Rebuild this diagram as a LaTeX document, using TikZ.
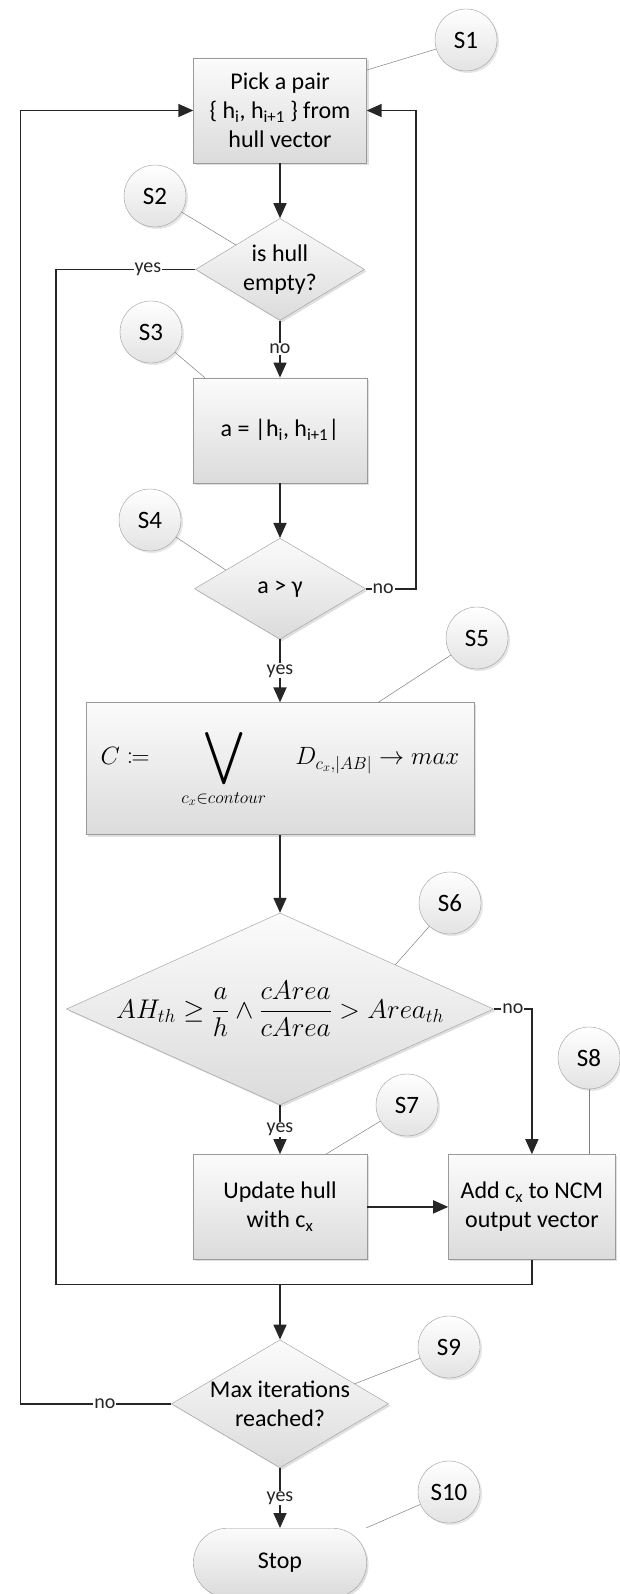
\RequirePackage{fix-cm}
\documentclass[tikz,border=0pt]{standalone}
\usepackage{amsmath}
\usepackage{mathtools}
\usepackage{graphicx}
\usepackage{fontspec}
\setmainfont{Carlito}
\usetikzlibrary{arrows.meta, positioning, calc, shapes.geometric, shadows}
\definecolor{myLine}{HTML}{262626}
\definecolor{myEdge}{HTML}{9A9A9A}

\begin{document}
\begin{tikzpicture}[
node distance=55pt and 81pt,
box/.style={rectangle, draw=myEdge, top color=gray!3, bottom color=gray!28, drop shadow={shadow xshift=2pt, shadow yshift=-2pt, opacity=0.25}, align=center, inner sep=0pt, font=\fontsize{24}{29}\selectfont},
decision/.style={diamond, draw=myEdge, top color=gray!3, bottom color=gray!28, drop shadow={shadow xshift=2pt, shadow yshift=-2pt, opacity=0.25}, align=center, inner sep=-10pt, font=\fontsize{24}{29}\selectfont},
term/.style={box, rounded corners=34pt},
tag/.style={circle, draw=myEdge, minimum size=62pt, inner sep=0pt, top color=white, bottom color=gray!22, drop shadow={shadow xshift=2pt, shadow yshift=-2pt, opacity=0.2}, font=\fontsize{25}{30}\selectfont},
tagline/.style={gray, line width=0.5pt},
flowline/.style={line width=1.6pt, myLine},
arrow/.style={flowline, -{Triangle[length=15pt, width=13pt]}},
lbl/.style={fill=white, inner sep=1pt, font=\fontsize{20}{22}\selectfont}
]
\useasboundingbox (0,0) rectangle (620pt,-1594pt);

\node[box, minimum width=173pt, minimum height=105pt] (pick) at (280pt,-110.5pt) {Pick a pair\\\{ h\textsubscript{i}, h\textsubscript{i+1} \} from\\hull vector};
\node[decision, aspect=1.66, minimum width=169pt, minimum height=102pt, below=55pt of pick] (empty) {is hull\\empty?};
\node[box, minimum width=174pt, minimum height=105pt, below=57pt of empty] (dist) {a = |h\textsubscript{i}, h\textsubscript{i+1}|};
\node[decision, aspect=1.69, minimum width=171pt, minimum height=101pt, below=55pt of dist] (long) {a > γ};
\node[box, minimum width=388pt, minimum height=132pt, below=63pt of long, font=\fontsize{25}{30}\selectfont] (cand) {$\displaystyle C \coloneqq \quad \mathop{\vcenter{\hbox{\scalebox{1.5}{$\displaystyle\bigvee$}}}}\limits_{c_x \in contour} \quad D_{c_x,|AB|} \to max$};
\node[decision, aspect=2.22, minimum width=427pt, minimum height=192pt, below=78pt of cand] (test) {};
\node[font=\fontsize{27}{32}\selectfont] (testeq) at (test) {$\displaystyle AH_{th} \geq \frac{a}{h} \wedge \frac{cArea}{cArea} > Area_{th}$};
\node[box, minimum width=174pt, minimum height=105pt, below=49pt of test] (update) {Update hull\\with c\textsubscript{x}};
\node[box, minimum width=167pt, minimum height=105pt, right=81pt of update] (add) {Add c\textsubscript{x} to NCM\\output vector};
\node[decision, aspect=1.7, minimum width=217pt, minimum height=128pt, below=80pt of update] (maxit) {Max iterations\\reached?};
\node[term, minimum width=173pt, minimum height=69pt, below=60pt of maxit] (stop) {Stop};

\coordinate (merge) at ($(update.south)+(0,-25pt)$);
\coordinate (mergeL) at ($(merge)+(-224pt,0)$);

\node[tag] (s1) at (466pt,-40pt) {S1};
\node[tag] (s2) at (155pt,-196pt) {S2};
\node[tag] (s3) at (151pt,-332pt) {S3};
\node[tag] (s4) at (150pt,-520pt) {S4};
\node[tag] (s5) at (477pt,-638pt) {S5};
\node[tag] (s6) at (450pt,-903pt) {S6};
\node[tag] (s7) at (407pt,-1105pt) {S7};
\node[tag] (s8) at (589pt,-1058pt) {S8};
\node[tag] (s9) at (449pt,-1347pt) {S9};
\node[tag] (s10) at (449pt,-1492pt) {S10};

\draw[tagline] (s1) -- (pick.25);
\draw[tagline] (s2) -- (empty.151);
\draw[tagline] (s3) -- (dist.145);
\draw[tagline] (s4) -- (long.161);
\draw[tagline] (s5) -- (cand.34);
\draw[tagline] (s6) -- (test.21);
\draw[tagline] (s7) -- (update.49);
\draw[tagline] (s8) -- (s8 |- add.north);
\draw[tagline] (s9) -- (maxit.15);
\draw[tagline] (s10) -- (stop.22);

\draw[arrow] (pick) -- (empty);
\draw[arrow] (empty) -- node[lbl]{no} (dist);
\draw[arrow] (dist) -- (long);
\draw[arrow] (long) -- node[lbl]{yes} (cand);
\draw[arrow] (cand) -- (test);
\draw[arrow] (test) -- node[lbl]{yes} (update);
\draw[arrow] (update) -- (add);
\draw[arrow] (maxit) -- node[lbl]{yes} (stop);

\draw[arrow] (long.east) -- node[lbl, pos=0.35]{no} ++(50pt,0) |- (pick.east);
\draw[arrow] (test.east) -| node[lbl, pos=0.25]{no} (add.north);
\draw[flowline] (empty.west) -- node[lbl, pos=0.34]{yes} (empty.west -| mergeL) -- (mergeL);
\draw[flowline] (add.south) |- (mergeL);
\draw[arrow] (merge) -- (maxit);
\draw[arrow] (maxit.west) -- node[lbl, pos=0.44]{no} ++(-151pt,0) |- (pick.west);
\end{tikzpicture}
\end{document}
